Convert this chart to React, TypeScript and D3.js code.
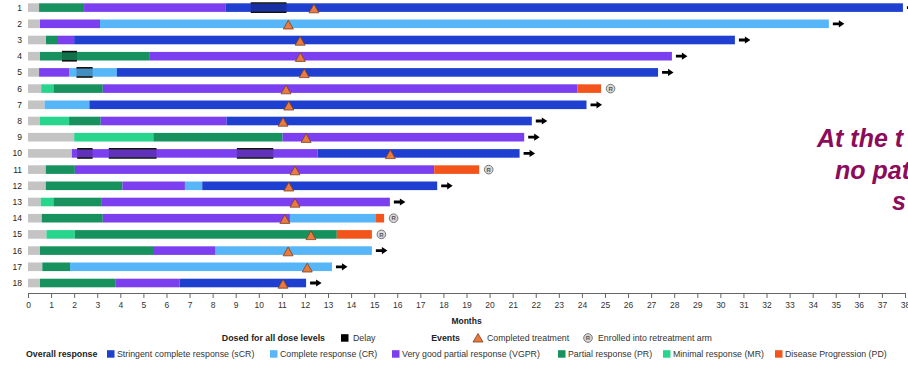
import React, { useEffect, useRef } from "react";
import * as d3 from "d3";

const rowLabels = ["1","2","3","4","5","6","7","8","9","10","11","12","13","14","15","16","17","18"];

// response code per segment (in order) and the month at which each segment ends
const segmentCodes: string[][] = [
  ["DOSE","PR","VGPR","sCR"],
  ["DOSE","VGPR","CR"],
  ["DOSE","PR","VGPR","sCR"],
  ["DOSE","PR","VGPR"],
  ["DOSE","VGPR","CR","sCR"],
  ["DOSE","MR","PR","VGPR","PD"],
  ["DOSE","CR","sCR"],
  ["DOSE","MR","PR","VGPR","sCR"],
  ["DOSE","MR","PR","VGPR"],
  ["DOSE","VGPR","sCR"],
  ["DOSE","PR","VGPR","PD"],
  ["DOSE","PR","VGPR","CR","sCR"],
  ["DOSE","MR","PR","VGPR"],
  ["DOSE","PR","VGPR","CR","PD"],
  ["DOSE","MR","PR","PD"],
  ["DOSE","PR","VGPR","CR"],
  ["DOSE","PR","CR"],
  ["DOSE","PR","VGPR","sCR"],
];
const segmentEnds: number[][] = [
  [0.48, 2.43, 8.55, 37.91],
  [0.52, 3.12, 34.7],
  [0.78, 1.3, 2.0, 30.63],
  [0.52, 5.25, 27.9],
  [0.48, 1.78, 3.85, 27.3],
  [0.57, 1.1, 3.24, 23.8, 24.83],
  [0.72, 2.66, 24.2],
  [0.52, 1.78, 3.15, 8.6, 21.83],
  [2.0, 5.43, 11.03, 21.5],
  [1.9, 12.55, 21.3],
  [0.77, 2.03, 17.6, 19.55],
  [0.77, 4.09, 6.8, 7.55, 17.73],
  [0.55, 1.1, 3.17, 15.68],
  [0.6, 3.24, 11.35, 15.08, 15.43],
  [0.8, 2.03, 13.38, 14.9],
  [0.52, 5.46, 8.13, 14.9],
  [0.62, 1.82, 13.17],
  [0.52, 3.78, 6.57, 12.05],
];

// dosing delays: [row index, start month, end month]
const delays: [number, number, number][] = [
  [0, 9.65, 11.2],
  [3, 1.47, 2.12],
  [4, 2.1, 2.8],
  [9, 2.13, 2.8],
  [9, 3.5, 5.57],
  [9, 9.05, 10.63],
];

// completed treatment month per row
const completedTreatment = [12.39, 11.28, 11.79, 11.8, 11.97, 11.18, 11.3, 11.05, 12.05, 15.7, 11.57, 11.3, 11.57, 11.13, 12.26, 11.27, 12.1, 11.05];

// end marker per row: "arrow" = ongoing, "retreat" = enrolled into retreatment arm
const endMarkers = ["arrow","arrow","arrow","arrow","arrow","retreat","arrow","arrow","arrow","arrow","retreat","arrow","arrow","retreat","retreat","arrow","arrow","arrow"];

const monthTicks = d3.range(0, 39);

const responseLegend = [
  { code: "sCR", label: "Stringent complete response (sCR)" },
  { code: "CR", label: "Complete response (CR)" },
  { code: "VGPR", label: "Very good partial response (VGPR)" },
  { code: "PR", label: "Partial response (PR)" },
  { code: "MR", label: "Minimal response (MR)" },
  { code: "PD", label: "Disease Progression (PD)" },
];

const overlayLines = ["At the t", "no pat", "s"];

const colors: Record<string, string> = {
  DOSE: "#c4c4c4",
  sCR: "#1f3fd0",
  CR: "#56b6f7",
  VGPR: "#7b3ff0",
  PR: "#17925f",
  MR: "#28d58c",
  PD: "#f2541b",
};

const W = 908, H = 366;
const FONT = "'Liberation Sans', Arial, Helvetica, sans-serif";

export default function App() {
  const axisRef = useRef<SVGGElement>(null);
  const x = d3.scaleLinear().domain([0, 38]).range([28, 905]);
  const y = d3.scalePoint<string>().domain(rowLabels).range([7.6, 283]);
  const barH = 8.6;
  const axisY = 293;

  useEffect(() => {
    if (!axisRef.current) return;
    const g = d3.select(axisRef.current);
    g.selectAll("*").remove();
    g.call(d3.axisBottom(x).tickValues(monthTicks).tickSize(5).tickSizeOuter(0).tickPadding(4).tickFormat(d3.format("d")) as any);
    g.select(".domain").attr("stroke", "#666").attr("stroke-width", 1);
    g.selectAll(".tick line").attr("stroke", "#666");
    g.selectAll(".tick text").attr("fill", "#333").style("font-size", "8.5px").style("font-family", FONT);
  }, []);

  const legendRow1 = 338;
  const legendRow2 = 354;
  const legendX = [107, 270, 392, 558, 663, 775];
  const overlayX = [817, 835, 892];
  const overlayY = [147, 179, 210];

  return (
    <svg width={W} height={H} style={{ position: "absolute", left: 0, top: 0, background: "#fff" }} fontFamily={FONT}>
      {rowLabels.map((r, i) => {
        const cy = y(r)!;
        let start = 0;
        const segs = segmentCodes[i].map((c, j) => {
          const s = start;
          const e = segmentEnds[i][j];
          start = e;
          return <rect key={j} x={x(s)} y={cy - barH / 2} width={Math.max(0, x(e) - x(s))} height={barH} fill={colors[c]} />;
        });
        const endX = x(segmentEnds[i][segmentEnds[i].length - 1]);
        const tx = x(completedTreatment[i]);
        return (
          <g key={r}>
            <text x={22} y={cy} dy="0.35em" textAnchor="end" fontSize={8.5} fill="#222">{r}</text>
            {segs}
            {delays.filter(d => d[0] === i).map((d, k) => (
              <g key={"d" + k}>
                <rect x={x(d[1])} y={cy - barH / 2} width={x(d[2]) - x(d[1])} height={barH} fill="#000" opacity={0.22} />
                <line x1={x(d[1])} x2={x(d[2])} y1={cy - barH / 2 - 0.3} y2={cy - barH / 2 - 0.3} stroke="#111" strokeWidth={1.6} />
                <line x1={x(d[1])} x2={x(d[2])} y1={cy + barH / 2 + 0.3} y2={cy + barH / 2 + 0.3} stroke="#111" strokeWidth={1.6} />
              </g>
            ))}
            <path d={`M${tx},${cy - 3.6} L${tx + 5},${cy + 5.2} L${tx - 5},${cy + 5.2} Z`} fill="#ea7a3e" stroke="#7a4025" strokeWidth={0.8} />
            {endMarkers[i] === "arrow" ? (
              <path d={`M${endX + 4},${cy - 1.4} L${endX + 10},${cy - 1.4} L${endX + 10},${cy - 3.6} L${endX + 15.5},${cy} L${endX + 10},${cy + 3.6} L${endX + 10},${cy + 1.4} L${endX + 4},${cy + 1.4} Z`} fill="#000" />
            ) : (
              <g>
                <circle cx={endX + 9.5} cy={cy} r={4.3} fill="#d9d9d9" stroke="#777" strokeWidth={1} />
                <text x={endX + 9.5} y={cy} dy="0.35em" textAnchor="middle" fontSize={6} fontWeight="bold" fill="#555">R</text>
              </g>
            )}
          </g>
        );
      })}

      <g ref={axisRef} transform={`translate(0,${axisY})`} />
      <text x={x(19)} y={324} textAnchor="middle" fontSize={8.5} fontWeight="bold" fill="#222">Months</text>

      {/* legend row 1 */}
      <text x={325} y={legendRow1} dy="0.35em" textAnchor="end" fontSize={8.8} fontWeight="bold" fill="#222">Dosed for all dose levels</text>
      <rect x={341} y={legendRow1 - 3.8} width={7.5} height={7.5} fill="#000" />
      <text x={353} y={legendRow1} dy="0.35em" fontSize={8.8} fill="#333">Delay</text>
      <text x={460} y={legendRow1} dy="0.35em" textAnchor="end" fontSize={8.8} fontWeight="bold" fill="#222">Events</text>
      <path d={`M478,${legendRow1 - 4.5} L483,${legendRow1 + 4} L473,${legendRow1 + 4} Z`} fill="#ea7a3e" stroke="#7a4025" strokeWidth={0.8} />
      <text x={487} y={legendRow1} dy="0.35em" fontSize={8.8} fill="#333">Completed treatment</text>
      <circle cx={588} cy={legendRow1} r={4.3} fill="#d9d9d9" stroke="#777" strokeWidth={1} />
      <text x={588} y={legendRow1} dy="0.35em" textAnchor="middle" fontSize={6} fontWeight="bold" fill="#555">R</text>
      <text x={598} y={legendRow1} dy="0.35em" fontSize={8.8} fill="#333">Enrolled into retreatment arm</text>

      {/* legend row 2 */}
      <text x={26} y={legendRow2} dy="0.35em" fontSize={8.8} fontWeight="bold" fill="#222">Overall response</text>
      {responseLegend.map((l, i) => (
        <g key={l.code}>
          <rect x={legendX[i]} y={legendRow2 - 3.8} width={7.5} height={7.5} fill={colors[l.code]} />
          <text x={legendX[i] + 10} y={legendRow2} dy="0.35em" fontSize={8.8} fill="#333">{l.label}</text>
        </g>
      ))}

      {/* overlay text (cut off at right edge, as in the reference) */}
      <g fill="#8c0b5a" fontSize={25} fontWeight="bold" fontStyle="italic">
        {overlayLines.map((t, i) => (
          <text key={i} x={overlayX[i]} y={overlayY[i]}>{t}</text>
        ))}
      </g>
    </svg>
  );
}
